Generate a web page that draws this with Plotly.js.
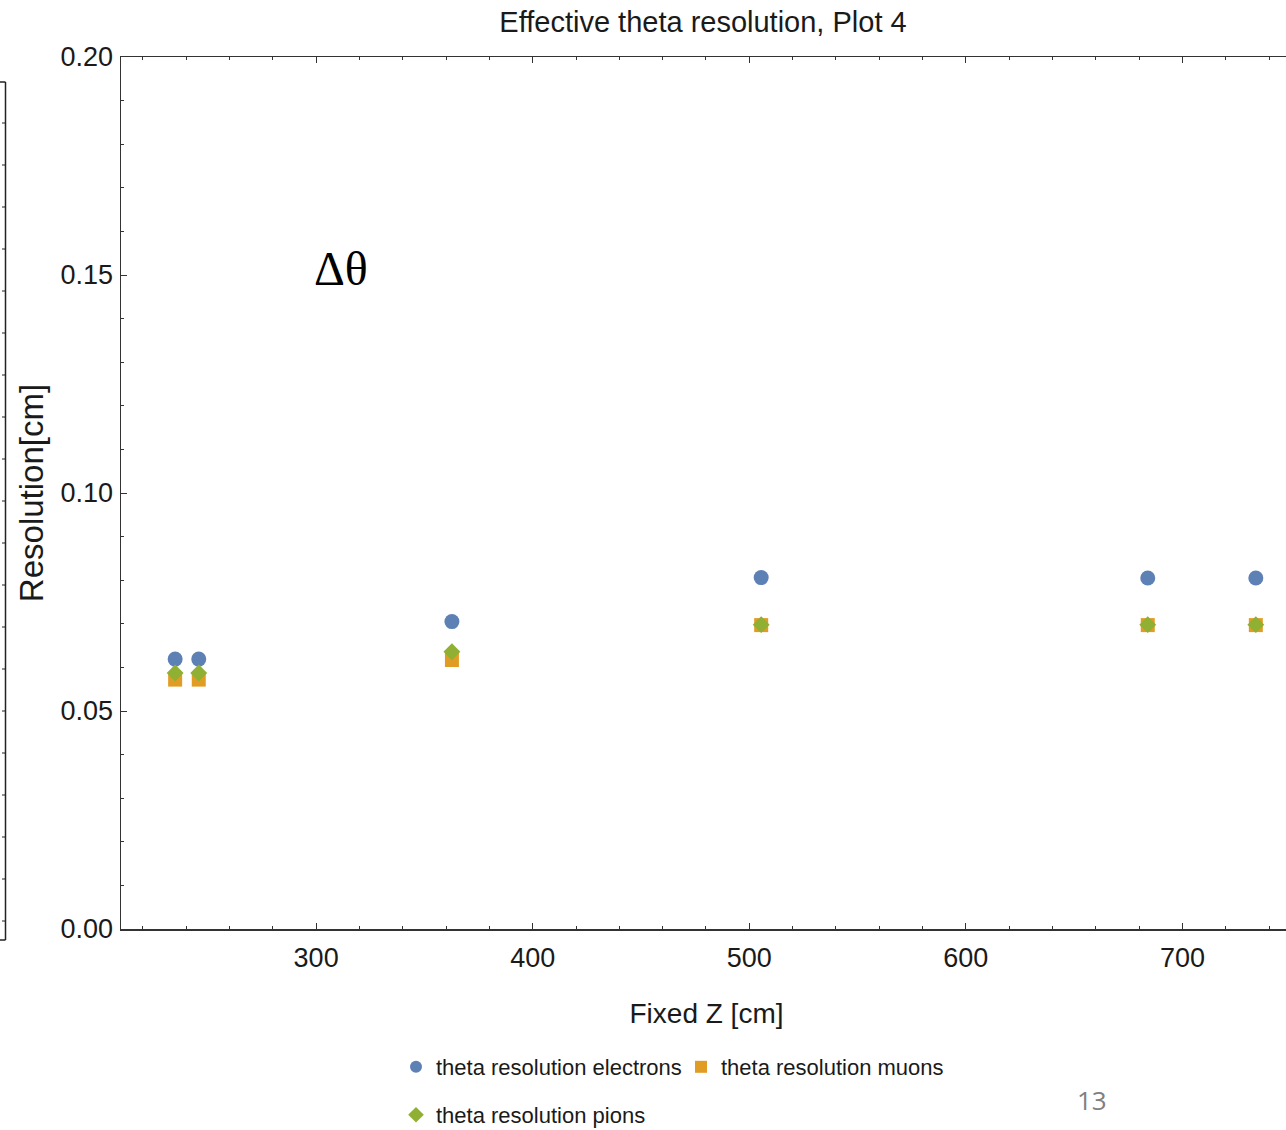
<!DOCTYPE html>
<html>
<head>
<meta charset="utf-8">
<script src="https://cdn.plot.ly/plotly-3.0.1.min.js"></script>
<style>
  html, body { margin: 0; padding: 0; background: #fff; overflow: hidden; width: 1286px; height: 1130px; }
  #wrap { width: 1286px; height: 1130px; overflow: hidden; position: relative; }
  #chart { width: 1292px; height: 1130px; position: absolute; left: 0; top: 0; }
</style>
</head>
<body>
<div id="wrap"><div id="chart"></div></div>
<script>
// ---- data ----
const fixedZ = [234.9, 245.8, 362.7, 505.5, 684.0, 733.9];
const electrons = [0.0619, 0.0619, 0.0705, 0.0806, 0.0805, 0.0805];
const muons = [0.0572, 0.0572, 0.0617, 0.0697, 0.0697, 0.0697];
const pions = [0.0587, 0.0587, 0.0636, 0.0698, 0.0698, 0.0698];
const seriesNames = ['theta resolution electrons', 'theta resolution muons', 'theta resolution pions'];
const seriesColors = ['#5E81B5', '#E19C24', '#8FB032'];
const chartTitle = 'Effective theta resolution, Plot 4';
const xTitle = 'Fixed Z [cm]';
const yTitle = 'Resolution[cm]';

const FONT = 'Liberation Sans, Arial, sans-serif';
const TXT = '#1a1a1a';

const traces = [
  { x: fixedZ, y: electrons, name: seriesNames[0], type: 'scatter', mode: 'markers',
    marker: { symbol: 'circle', size: 15, color: seriesColors[0] }, legend: 'legend' },
  { x: fixedZ, y: muons, name: seriesNames[1], type: 'scatter', mode: 'markers',
    marker: { symbol: 'square', size: 14, color: seriesColors[1] }, legend: 'legend' },
  { x: fixedZ, y: pions, name: seriesNames[2], type: 'scatter', mode: 'markers',
    marker: { symbol: 'diamond', size: 13, color: seriesColors[2] }, legend: 'legend2' }
];

// decorative frame of the neighbouring (cut-off) chart on the far left
const W = 1292, ML = 121, MR = 0, MT = 57, MB = 201, H = 1130;
const pw = W - ML - MR, ph = H - MT - MB;
const px = v => (v - ML) / pw;
const py = v => (H - MB - v) / ph;
const shapes = [
  { type: 'line', xref: 'paper', yref: 'paper', x0: px(5.5), x1: px(5.5), y0: py(82), y1: py(940), line: { color: '#222', width: 1.5 } },
  { type: 'line', xref: 'paper', yref: 'paper', x0: px(0), x1: px(5.5), y0: py(82), y1: py(82), line: { color: '#222', width: 1.5 } },
  { type: 'line', xref: 'paper', yref: 'paper', x0: px(0), x1: px(5.5), y0: py(940), y1: py(940), line: { color: '#222', width: 1.5 } }
];
for (let k = 0; k < 20; k++) {
  const yy = 123 + 42 * k;
  shapes.push({ type: 'line', xref: 'paper', yref: 'paper', x0: px(2), x1: px(5.5), y0: py(yy), y1: py(yy), line: { color: '#222', width: 1 } });
}

const layout = {
  width: W, height: H,
  margin: { l: ML, r: MR, t: MT, b: MB, pad: 0, autoexpand: false },
  paper_bgcolor: '#fff', plot_bgcolor: '#fff',
  font: { family: FONT, size: 28, color: TXT },
  title: { text: chartTitle, font: { family: FONT, size: 29, color: TXT },
           x: 703 / W, xanchor: 'center', y: 1 - 22 / H, yanchor: 'middle', xref: 'container', yref: 'container' },
  showlegend: true,
  xaxis: {
    range: [209.9, 750.6], showgrid: false, zeroline: false, automargin: false,
    showline: true, linecolor: '#333', linewidth: 1.5, mirror: 'ticks',
    ticks: 'inside', ticklen: 6, tickwidth: 1, tickcolor: '#333',
    tick0: 0, dtick: 100, ticklabelstandoff: 4,
    tickfont: { family: FONT, size: 27, color: TXT },
    minor: { ticks: 'inside', ticklen: 3, tickwidth: 1, tickcolor: '#333', dtick: 20, tick0: 0, showgrid: false },
    title: { text: xTitle, font: { family: FONT, size: 28, color: TXT }, standoff: 31 }
  },
  yaxis: {
    range: [0, 0.2], showgrid: false, zeroline: false, automargin: false,
    showline: true, linecolor: '#333', linewidth: 1.5, mirror: 'ticks',
    ticks: 'inside', ticklen: 6, tickwidth: 1, tickcolor: '#333',
    tick0: 0, dtick: 0.05, tickformat: '.2f', ticklabelstandoff: 1,
    tickfont: { family: FONT, size: 27, color: TXT },
    minor: { ticks: 'inside', ticklen: 3, tickwidth: 1, tickcolor: '#333', dtick: 0.01, tick0: 0, showgrid: false },
    title: { text: yTitle, font: { family: FONT, size: 33, color: TXT }, standoff: 7 }
  },
  legend: {
    orientation: 'h', x: px(396), xanchor: 'left', y: py(1067), yanchor: 'middle',
    font: { family: FONT, size: 22, color: TXT }, itemsizing: 'constant',
    entrywidth: 240, entrywidthmode: 'pixels', bgcolor: 'rgba(0,0,0,0)', borderwidth: 0
  },
  legend2: {
    orientation: 'h', x: px(396), xanchor: 'left', y: py(1115), yanchor: 'middle',
    font: { family: FONT, size: 22, color: TXT }, itemsizing: 'constant',
    bgcolor: 'rgba(0,0,0,0)', borderwidth: 0
  },
  shapes: shapes,
  annotations: [
    { text: 'Δθ', xref: 'x', yref: 'y', x: 311.5, y: 0.1516, showarrow: false,
      xanchor: 'center', yanchor: 'middle',
      font: { family: 'Liberation Serif, Times New Roman, serif', size: 48, color: '#000' } },
    { text: '13', xref: 'paper', yref: 'paper', x: px(1092), y: py(1100), showarrow: false,
      xanchor: 'center', yanchor: 'middle',
      font: { family: 'Open Sans, sans-serif', size: 26, color: '#808080' } }
  ]
};

Plotly.newPlot('chart', traces, layout, { displayModeBar: false, staticPlot: true });
</script>
</body>
</html>
